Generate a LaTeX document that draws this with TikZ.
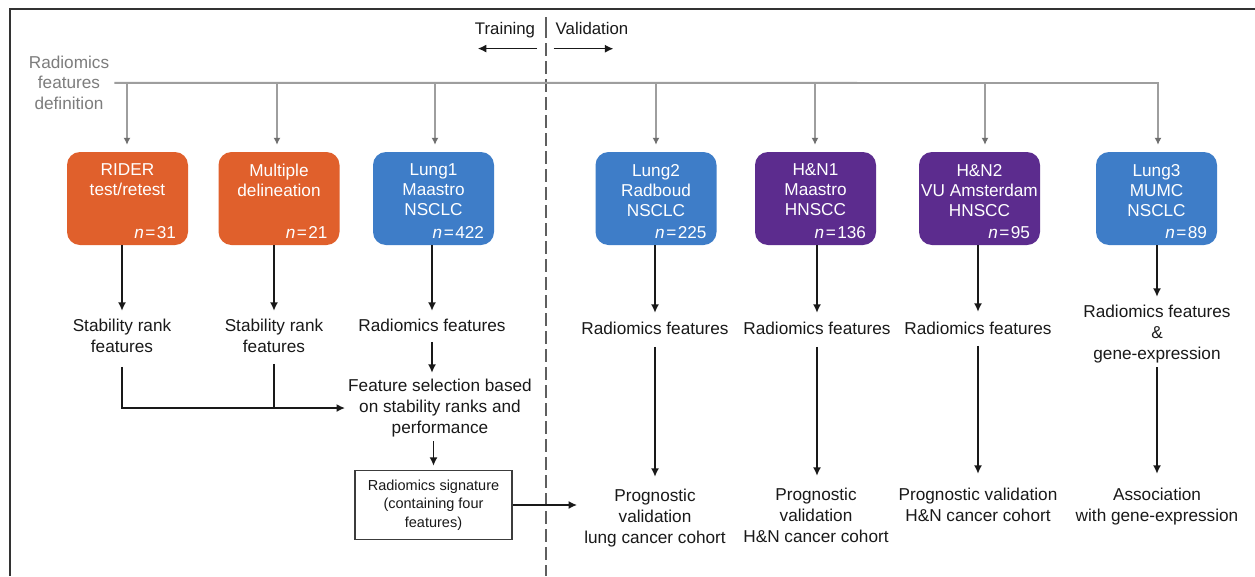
\documentclass[tikz,border=0pt]{standalone}
\usepackage{fontspec}
\setmainfont{Liberation Sans}
\usetikzlibrary{arrows.meta}

\definecolor{cOrange}{RGB}{224,96,44}
\definecolor{cBlue}{RGB}{62,125,200}
\definecolor{cPurple}{RGB}{92,44,142}
\definecolor{cFeed}{RGB}{158,158,158}
\definecolor{cFeedTip}{RGB}{110,110,110}
\definecolor{cDefText}{RGB}{125,125,125}
\definecolor{cInk}{RGB}{25,25,25}
\definecolor{cDivider}{RGB}{95,95,95}

\tikzset{
  txt/.style={font=\fontsize{17.2}{21}\selectfont, text=cInk, align=center, inner sep=0pt, anchor=north},
  deflbl/.style={font=\fontsize{17.2}{20.5}\selectfont, text=cDefText, align=center, inner sep=0pt, anchor=north},
  headlbl/.style={font=\fontsize{16.8}{20}\selectfont, text=cInk, inner sep=0pt, anchor=north},
  cohort/.style={fill=#1, rounded corners=13pt, minimum width=121pt, minimum height=93pt, inner sep=0pt},
  ctitle/.style={font=\fontsize{17.2}{20}\selectfont, text=white, align=center, inner sep=0pt, anchor=north},
  nlab/.style={font=\fontsize{17.2}{20}\selectfont, text=white, inner sep=0pt, anchor=base east},
  sigbox/.style={draw=cInk!85, line width=1.4pt, minimum width=157pt, minimum height=69pt, inner sep=0pt,
    align=center, font=\fontsize{14.5}{18.5}\selectfont, text=cInk},
  plain/.style={draw=cInk, line width=1.5pt},
  arr/.style={plain, -{Latex[length=8.5pt,width=8pt]}},
  feed/.style={draw=cFeed, line width=1.9pt},
  feedarr/.style={feed, -{Latex[length=7pt,width=7pt,color=cFeedTip]}, shorten >=7pt},
  divider/.style={draw=cDivider, line width=1.7pt},
  frameline/.style={draw=black!80, line width=2pt},
}

\begin{document}
\begin{tikzpicture}[x=1pt,y=-1pt]
\useasboundingbox[fill=white] (0,0) rectangle (1255,576);

% outer frame (top and left edges)
\draw[frameline] (1255,8.5) -- (9.5,8.5) -- (9.5,576);

% training / validation divider
\draw[divider] (546,17) -- (546,38);
\draw[divider, dash pattern=on 13pt off 5pt] (546,43) -- (546,576);

\node[headlbl] (train) at (505,22) {Training};
\node[headlbl] (valid) at (592,22) {Validation};
\draw[arr] ([xshift=2pt,yshift=-10.5pt]train.south east) -- ([xshift=3pt,yshift=-10.5pt]train.south west);
\draw[arr] ([xshift=-2pt,yshift=-14pt]valid.south west) -- ([xshift=-15pt,yshift=-14pt]valid.south east);

% feature definition feed
\node[deflbl] (def) at (69,55.8) {Radiomics\\features\\definition};
\coordinate (j1) at (127,83);
\coordinate (j2) at (277,83);
\coordinate (j3) at (435,83);
\coordinate (j4) at (656,83);
\coordinate (j5) at (815,83);
\coordinate (j6) at (985,83);
\coordinate (j7) at (1158,83);

% cohort boxes
\node[cohort=cOrange] (rider)  at (127.5,198.5) {};
\node[cohort=cOrange] (multi)  at (279,198.5) {};
\node[cohort=cBlue]   (lung1)  at (433.5,198.5) {};
\node[cohort=cBlue]   (lung2)  at (656,198.5) {};
\node[cohort=cPurple] (hn1)    at (815.5,198.5) {};
\node[cohort=cPurple] (hn2)    at (979.5,198.5) {};
\node[cohort=cBlue]   (lung3)  at (1156.5,198.5) {};

\node[ctitle] (rider-t) at ([yshift=-12pt]rider.north) {RIDER\\test/retest};
\node[ctitle] (multi-t) at ([yshift=-12pt]multi.north) {Multiple\\delineation};
\node[ctitle] (lung1-t) at ([yshift=-12pt]lung1.north) {Lung1\\Maastro\\NSCLC};
\node[ctitle] (lung2-t) at ([yshift=-12pt]lung2.north) {Lung2\\Radboud\\NSCLC};
\node[ctitle] (hn1-t)   at ([yshift=-12pt]hn1.north)   {H\&N1\\Maastro\\HNSCC};
\node[ctitle] (hn2-t)   at ([yshift=-12pt]hn2.north)   {H\&N2\\VU Amsterdam\\HNSCC};
\node[ctitle] (lung3-t) at ([yshift=-12pt]lung3.north) {Lung3\\MUMC\\NSCLC};

\node[nlab] (rider-n) at ([xshift=-12pt,yshift=6.5pt]rider.south east) {\textit{n}\kern1.5pt=\kern1.5pt31};
\node[nlab] (multi-n) at ([xshift=-12pt,yshift=6.5pt]multi.south east) {\textit{n}\kern1.5pt=\kern1.5pt21};
\node[nlab] (lung1-n) at ([xshift=-10pt,yshift=6.5pt]lung1.south east) {\textit{n}\kern1.5pt=\kern1.5pt422};
\node[nlab] (lung2-n) at ([xshift=-10pt,yshift=6.5pt]lung2.south east) {\textit{n}\kern1.5pt=\kern1.5pt225};
\node[nlab] (hn1-n)   at ([xshift=-10pt,yshift=6.5pt]hn1.south east)   {\textit{n}\kern1.5pt=\kern1.5pt136};
\node[nlab] (hn2-n)   at ([xshift=-10pt,yshift=6.5pt]hn2.south east)   {\textit{n}\kern1.5pt=\kern1.5pt95};
\node[nlab] (lung3-n) at ([xshift=-10pt,yshift=6.5pt]lung3.south east) {\textit{n}\kern1.5pt=\kern1.5pt89};

% feed lines into the cohorts
\draw[feedarr] ([xshift=5pt]def.east) -- (j7) -- (j7 |- lung3.north);
\draw[feedarr] (j1) -- (j1 |- rider.north);
\draw[feedarr] (j2) -- (j2 |- multi.north);
\draw[feedarr] (j3) -- (j3 |- lung1.north);
\draw[feedarr] (j4) -- (j4 |- lung2.north);
\draw[feedarr] (j5) -- (j5 |- hn1.north);
\draw[feedarr] (j6) -- (j6 |- hn2.north);

% training side
\node[txt] (stab1) at (122,318.8) {Stability rank\\features};
\node[txt] (stab2) at (274,318.8) {Stability rank\\features};
\node[txt] (rf1)   at (432,318.8) {Radiomics features};
\node[txt] (fsel)  at (440,378.8) {Feature selection based\\on stability ranks and\\performance};
\node[sigbox] (sig) at (433.5,505) {Radiomics signature\\(containing four\\features)};

\draw[arr, shorten >=8pt] (rider.south -| stab1.north) -- (stab1.north);
\draw[arr, shorten >=8pt] (multi.south -| stab2.north) -- (stab2.north);
\draw[arr, shorten >=8pt] (lung1.south -| rf1.north) -- (rf1.north);
\draw[arr, shorten <=10pt, shorten >=6pt] (rf1.south) -- (rf1.south |- fsel.north);
\draw[arr, shorten <=14pt, shorten >=3pt] (stab1.south) |- (fsel.west);
\draw[plain, shorten <=11pt] (stab2.south) -- (stab2.south |- fsel.west);
\draw[arr, shorten <=4pt, shorten >=4pt] (fsel.south -| sig.north) -- (sig.north);

% validation side
\node[txt] (rf2)   at (655,321.8) {Radiomics features};
\node[txt] (rfh1)  at (817,321.8) {Radiomics features};
\node[txt] (rfh2)  at (978,321.8) {Radiomics features};
\node[txt] (rf3)   at (1157,304.8) {Radiomics features\\\&\\gene-expression};

\node[txt] (pv1)   at (655,488.8) {Prognostic\\validation\\lung cancer cohort};
\node[txt] (pv2)   at (816,487.8) {Prognostic\\validation\\H\&N cancer cohort};
\node[txt] (pv3)   at (978,487.8) {Prognostic validation\\H\&N cancer cohort};
\node[txt] (assoc) at (1157,487.8) {Association\\with gene-expression};

\draw[arr, shorten >=9pt] (lung2.south -| rf2.north) -- (rf2.north);
\draw[arr, shorten >=9pt] (hn1.south -| rfh1.north) -- (rfh1.north);
\draw[arr, shorten >=10pt] (hn2.south -| rfh2.north) -- (rfh2.north);
\draw[arr, shorten >=8pt] (lung3.south -| rf3.north) -- (rf3.north);

\draw[arr, shorten <=12pt, shorten >=12pt] (rf2.south) -- (rf2.south |- pv1.north);
\draw[arr, shorten <=12pt, shorten >=12pt] (rfh1.south) -- (rfh1.south |- pv2.north);
\draw[arr, shorten <=11pt, shorten >=14pt] (rfh2.south) -- (rfh2.south |- pv3.north);
\draw[arr, shorten <=4pt, shorten >=14pt] (rf3.south) -- (rf3.south |- assoc.north);

\draw[arr, shorten >=7pt] (sig.east) -- (sig.east -| pv1.west);
\end{tikzpicture}
\end{document}
